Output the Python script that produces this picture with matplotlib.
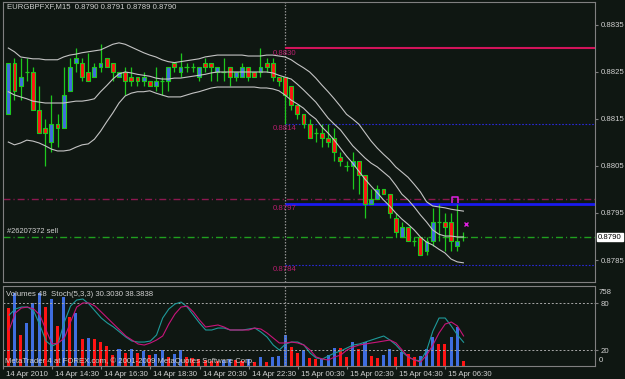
import numpy as np
import matplotlib
matplotlib.use("Agg")
import matplotlib.pyplot as plt
import matplotlib.transforms as mtransforms
from matplotlib.path import Path

plt.rcParams["font.family"] = ["Liberation Sans", "DejaVu Sans"]

BG = "#0f1712"
GREEN = "#1ec81e"
BULL = "#3f6ee0"
BEAR = "#ff1414"
FRAME = "#808080"
TXT = "#d0d0d0"

# EURGBP M15 candles, bar 0 = 14 Apr 12:45
OPEN = [.8816, .8827, .8822, .8825, .8825, .8817, .8813, .8810, .8814, .8813,
        .8821, .8827, .8827, .8825, .8824, .8826, .8828, .8827, .8824, .8825,
        .8824, .8824, .8823, .8823, .8822, .8823, .8823, .8827, .8825, .8826,
        .8826, .8824, .8827, .8827, .8825, .8825, .8826, .8824, .8824, .8826,
        .8825, .8825, .8827, .8827, .8824, .8824, .8822, .8818, .8816, .8814,
        .8812, .8812, .8811, .8811, .8807, .8805, .8805, .8806, .8803, .8797,
        .8798, .8800, .8799, .8794, .8790, .8792, .8789, .8790, .8787, .8789,
        .8793, .8793, .8793, .8788, .8790]
HIGH = [.8827, .8828, .8828, .8828, .8826, .8822, .8815, .8820, .8816, .8826,
        .8828, .8830, .8828, .8829, .8827, .8831, .8828, .8827, .8825, .8826,
        .8826, .8824, .8825, .8823, .8826, .8824, .8826, .8827, .8829, .8827,
        .8827, .8826, .8828, .8827, .8826, .8828, .8826, .8825, .8827, .8826,
        .8825, .8830, .8828, .8828, .8824, .8824, .8822, .8818, .8816, .8815,
        .8813, .8814, .8814, .8813, .8808, .8806, .8808, .8806, .8803, .8800,
        .8801, .8800, .8799, .8795, .8793, .8792, .8790, .8790, .8790, .8796,
        .8797, .8795, .8795, .8797, .8791]
LOW = [.8816, .8819, .8819, .8823, .8817, .8812, .8805, .8808, .8809, .8813,
       .8821, .8825, .8823, .8823, .8824, .8825, .8826, .8823, .8824, .8820,
       .8822, .8822, .8822, .8822, .8821, .8820, .8821, .8825, .8824, .8825,
       .8825, .8823, .8825, .8823, .8823, .8823, .8822, .8823, .8824, .8823,
       .8824, .8824, .8825, .8823, .8822, .8814, .8817, .8815, .8813, .8811,
       .8810, .8809, .8809, .8806, .8805, .8804, .8800, .8799, .8794, .8797,
       .8798, .8799, .8794, .8790, .8790, .8789, .8788, .8786, .8786, .8788,
       .8789, .8787, .8787, .8787, .8789]
CLOSE = [.8827, .8821, .8824, .8825, .8817, .8812, .8812, .8814, .8813, .8820,
         .8826, .8828, .8824, .8823, .8826, .8827, .8826, .8825, .8825, .8823,
         .8823, .8823, .8824, .8822, .8823, .8823, .8826, .8826, .8826, .8826,
         .8826, .8826, .8826, .8826, .8826, .8825, .8824, .8825, .8826, .8824,
         .8824, .8826, .8826, .8824, .8823, .8820, .8818, .8816, .8814, .8811,
         .8812, .8811, .8810, .8808, .8806, .8805, .8806, .8803, .8797, .8798,
         .8800, .8799, .8795, .8791, .8792, .8789, .8789, .8786, .8789, .8793,
         .8793, .8792, .8789, .8789, .8790]

# Bollinger bands (20)
BB_UP = [.88301, .88293, .88282, .88280, .88278, .88278, .88276, .88276, .88276, .88282,
         .88286, .88288, .88291, .88293, .88295, .88297, .88303, .88309, .88312, .88309,
         .88303, .88297, .88291, .88286, .88282, .88276, .88272, .88270, .88272, .88274,
         .88276, .88278, .88282, .88284, .88286, .88286, .88286, .88286, .88286, .88284,
         .88284, .88284, .88286, .88286, .88284, .88282, .88276, .88267, .88259, .88250,
         .88237, .88222, .88208, .88193, .88177, .88160, .88150, .88139, .88121, .88103,
         .88088, .88075, .88063, .88048, .88037, .88026, .88011, .87995, .87974, .87965,
         .87963, .87961, .87958, .87956, .87954]
BB_MID = [.88208, .88201, .88197, .88193, .88188, .88186, .88184, .88184, .88184, .88184,
          .88186, .88188, .88188, .88190, .88193, .88208, .88221, .88235, .88246, .88250,
          .88248, .88245, .88243, .88241, .88237, .88235, .88235, .88237, .88237, .88239,
          .88241, .88243, .88245, .88248, .88250, .88250, .88250, .88250, .88250, .88250,
          .88250, .88250, .88250, .88248, .88243, .88239, .88235, .88224, .88212, .88199,
          .88186, .88169, .88152, .88139, .88127, .88110, .88093, .88080, .88067, .88056,
          .88048, .88037, .88026, .88009, .87990, .87978, .87963, .87946, .87931, .87914,
          .87905, .87901, .87901, .87899, .87899]
BB_LOW = [.88101, .88095, .88099, .88105, .88103, .88099, .88093, .88086, .88082, .88082,
          .88084, .88090, .88095, .88097, .88107, .88124, .88144, .88163, .88184, .88199,
          .88205, .88208, .88208, .88210, .88205, .88201, .88197, .88197, .88197, .88201,
          .88205, .88208, .88212, .88216, .88218, .88218, .88218, .88218, .88218, .88218,
          .88218, .88216, .88216, .88214, .88210, .88201, .88190, .88182, .88173, .88160,
          .88150, .88133, .88120, .88105, .88088, .88071, .88056, .88039, .88022, .88007,
          .87993, .87978, .87965, .87950, .87937, .87926, .87914, .87899, .87888, .87882,
          .87873, .87865, .87852, .87846, .87844]

VOLUME = [557, 701, 298, 413, 605, 701, 566, 643, 384, 662,
          470, 509, 259, 269, 259, 230, 192, 106, 163, 125,
          163, 125, 140, 106, 115, 154, 86, 115, 154, 86,
          77, 67, 58, 50, 45, 58, 67, 58, 50, 67,
          38, 86, 38, 86, 96, 298, 182, 125, 154, 77,
          72, 67, 106, 173, 173, 86, 230, 163, 230, 96,
          77, 106, 163, 86, 134, 115, 86, 96, 163, 278,
          211, 211, 278, 374, 48]
VOL_COLOR = "RBRBBBRBRBRBRBRRRRBRBRBRBBRBBRRRRRRBBRRBRBRBBBRRBRRBBBRRBRBRRBBRBRRBBBRRBBR"

STOCH_MAIN = [65.1, 72.8, 75.3, 75.3, 70.2, 52.4, 31.9, 25.5, 29.4, 56.2,
              76.6, 84.3, 85.6, 79.2, 70.2, 61.3, 54.9, 49.8, 43.4, 37.0,
              31.9, 30.6, 30.6, 31.9, 39.6, 61.3, 72.8, 79.2, 81.7, 75.3,
              65.1, 54.9, 46.0, 46.0, 48.5, 48.5, 46.0, 46.0, 46.0, 47.2,
              48.5, 43.4, 37.0, 26.8, 20.4, 28.1, 30.6, 30.6, 26.8, 16.6,
              10.2, 8.9, 12.8, 16.6, 19.2, 23.0, 26.8, 28.1, 30.6, 33.2,
              35.8, 38.3, 33.2, 26.8, 17.9, 11.5, 7.7, 6.4, 20.4, 44.7,
              61.3, 61.3, 51.1, 39.6, 30.3]
STOCH_SIGNAL = [46.0, 67.7, 74.1, 75.3, 72.8, 65.1, 46.0, 28.1, 29.4, 35.8,
                56.2, 75.3, 80.5, 80.5, 76.6, 69.0, 61.3, 53.6, 46.0, 38.3,
                33.2, 28.1, 26.8, 29.4, 33.2, 38.3, 53.6, 66.4, 75.3, 76.6,
                69.0, 58.7, 49.8, 51.1, 52.4, 49.8, 46.0, 46.0, 46.0, 46.0,
                48.5, 47.2, 42.1, 35.8, 29.4, 29.4, 30.6, 29.4, 26.8, 20.4,
                11.5, 8.9, 7.7, 11.5, 14.0, 20.4, 24.3, 26.8, 28.1, 29.4,
                30.6, 31.9, 33.2, 29.4, 20.4, 11.5, 7.7, 5.1, 14.0, 26.8,
                42.1, 53.6, 56.2, 51.1, 38.4]

TIME_BARS = [-1, 7, 15, 23, 31, 39, 47, 55, 63, 71]
TIME_LABELS = ["14 Apr 2010", "14 Apr 14:30", "14 Apr 16:30", "14 Apr 18:30", "14 Apr 20:30",
               "14 Apr 22:30", "15 Apr 00:30", "15 Apr 02:30", "15 Apr 04:30", "15 Apr 06:30"]
PRICE_TICKS = [0.8835, 0.8825, 0.8815, 0.8805, 0.8795, 0.8785]

DAY_BAR = 45           # 15 Apr 00:00 separator
LEVEL_HIGH = 0.8830
LEVEL_PIVOT = 0.8797
LEVEL_DOTTED = [0.8814, 0.8784]
STOP_LEVEL = 0.8798
ORDER_PRICE = 0.8790
LAST_PRICE = 0.8790
CLOSE_MARK = (72.7, 0.87977)
ORDER_MARK = (74.4, 0.87926)

W, H = 625, 379


def box(l, t, r, b):
    return [l / W, 1 - b / H, (r - l) / W, (b - t) / H]


fig = plt.figure(figsize=(W / 100, H / 100), dpi=100, facecolor=BG)
ax = fig.add_axes(box(3, 2, 595, 282), facecolor=BG)
axv = fig.add_axes(box(3, 286, 595, 366), facecolor=BG)
axs = fig.add_axes(box(3, 286, 595, 366))
axs.patch.set_alpha(0)

x0, step = 8.3, 6.15
xlim = ((3 - x0) / step, (595 - x0) / step)
x = np.arange(len(CLOSE))
o, h, l, c = (np.array(a) for a in (OPEN, HIGH, LOW, CLOSE))

# --- candles ---
ax.vlines(x, l, h, color=GREEN, lw=0.9, zorder=3)
up, dn, flat = c > o, c < o, c == o
ax.bar(x[up], (c - o)[up], bottom=o[up], width=0.62, color=BULL, edgecolor=GREEN, lw=0.8, zorder=4)
ax.bar(x[dn], (o - c)[dn], bottom=c[dn], width=0.62, color=BEAR, edgecolor=GREEN, lw=0.8, zorder=4)
ax.hlines(c[flat], x[flat] - 0.35, x[flat] + 0.35, color=GREEN, lw=0.9, zorder=4)

for band in (BB_UP, BB_MID, BB_LOW):
    ax.plot(x, band, color="#c4c4c4", lw=0.8, zorder=5)

# --- levels ---
ax.hlines(LEVEL_HIGH, DAY_BAR, xlim[1], color="#d2145a", lw=1.5, zorder=2)
ax.hlines(LEVEL_PIVOT, DAY_BAR, xlim[1], color="#1a1af0", lw=2.0, zorder=2)
ax.hlines(LEVEL_DOTTED, DAY_BAR, xlim[1], color="#2a2ad8", lw=0.8, linestyles=(0, (1.5, 1.5)), zorder=2)
for lv in [LEVEL_HIGH, 0.8814, LEVEL_PIVOT, 0.8784]:
    ax.text(DAY_BAR, lv - 0.00003, f"{lv:.4f}", color="#b81e6e", fontsize=5.6,
            ha="center", va="top", zorder=6)
ax.axhline(STOP_LEVEL, color="#8c1850", lw=1.0, ls=(0, (5, 2.2, 0.8, 2.2)), zorder=2)
ax.axhline(ORDER_PRICE, color="#1fa01f", lw=1.0, ls=(0, (5, 2.2, 0.8, 2.2)), zorder=2)
ax.text(0.007, ORDER_PRICE + 0.00004, "#26207372 sell", color=TXT, fontsize=5.4,
        transform=ax.get_yaxis_transform(), va="bottom")
ax.axvline(DAY_BAR, color="#909090", lw=0.9, ls=(0, (1.2, 1.2)), zorder=1)

# trade arrows (magenta)
cap = Path([(-1, -1), (-1, 1), (1, 1), (1, -1)], [Path.MOVETO, Path.LINETO, Path.LINETO, Path.LINETO])
ax.plot([CLOSE_MARK[0]], [CLOSE_MARK[1]], marker=cap, ms=4.5, mew=1.1, color="#e020e0",
        fillstyle="none", ls="none", zorder=7)
ax.plot([ORDER_MARK[0]], [ORDER_MARK[1]], marker="x", color="#e020e0", ms=3.5, mew=1.0, zorder=7)

ax.set_xlim(*xlim)
ax.set_ylim(0.878032, 0.883989)
ax.set_xticks([])
ax.yaxis.tick_right()
ax.set_yticks(PRICE_TICKS)
ax.set_yticklabels([f"{p:.4f}" for p in PRICE_TICKS])
ax.tick_params(axis="y", colors=FRAME, labelcolor=TXT, length=2.5, width=0.8, labelsize=5.6, pad=1.5)

# last price box
fig.text(598 / W, 1 - 237 / H, f"{LAST_PRICE:.4f}", color="black", fontsize=5.6, va="center",
         bbox=dict(facecolor="white", edgecolor="white", pad=0.6))
fig.text(7 / W, 1 - 7 / H, "EURGBPFXF,M15  0.8790 0.8791 0.8789 0.8790", color=TXT,
         fontsize=5.6, va="center")

# --- volumes + stochastic subwindow ---
vcol = [BULL if ch == "B" else BEAR for ch in VOL_COLOR]
axv.bar(x, VOLUME, width=0.5, color=vcol, zorder=2)
axv.set_xlim(*xlim)
axv.set_ylim(0, 768)
axv.set_xticks([])
axv.set_yticks([])

axs.plot(x, STOCH_MAIN, color="#1e9a9a", lw=0.8, zorder=3)
axs.plot(x, STOCH_SIGNAL, color="#c8147a", lw=0.8, zorder=3)
for lvl in (80, 20):
    axs.axhline(lvl, color="#a8a8a8", lw=0.7, ls=(0, (2, 2)))
axs.axvline(DAY_BAR, color="#909090", lw=0.9, ls=(0, (1.2, 1.2)))
axs.set_xlim(*xlim)
axs.set_ylim(0, 102.2)
axs.yaxis.tick_right()
axs.set_yticks([80, 20])
axs.tick_params(axis="y", colors=FRAME, labelcolor=TXT, length=2.5, width=0.8, labelsize=5.6, pad=1.5)
axs.set_xticks(TIME_BARS)
axs.set_xticklabels(TIME_LABELS)
axs.tick_params(axis="x", colors=FRAME, labelcolor=TXT, length=2.5, width=0.8, labelsize=5.6, pad=1)
shift = mtransforms.ScaledTranslation(3 / 100, 0, fig.dpi_scale_trans)
for t in axs.get_xticklabels():
    t.set_ha("left")
    t.set_transform(t.get_transform() + shift)

fig.text(599 / W, 1 - 292 / H, "758", color=TXT, fontsize=5.6, va="center")
fig.text(599 / W, 1 - 361 / H, "0", color=TXT, fontsize=5.6, va="center")
fig.text(6 / W, 1 - 294 / H, "Volumes 48  Stoch(5,3,3) 30.3030 38.3838", color=TXT,
         fontsize=5.6, va="center")
fig.text(5 / W, 1 - 361 / H, "MetaTrader 4 at FOREX.com, \u00a9 2001-2009 MetaQuotes Software Corp.",
         color=TXT, fontsize=5.6, va="center")

for a in (ax, axs):
    for s in a.spines.values():
        s.set_color(FRAME)
        s.set_linewidth(0.8)
for s in axv.spines.values():
    s.set_visible(False)

fig.savefig("out.png", dpi=100, facecolor=BG)
